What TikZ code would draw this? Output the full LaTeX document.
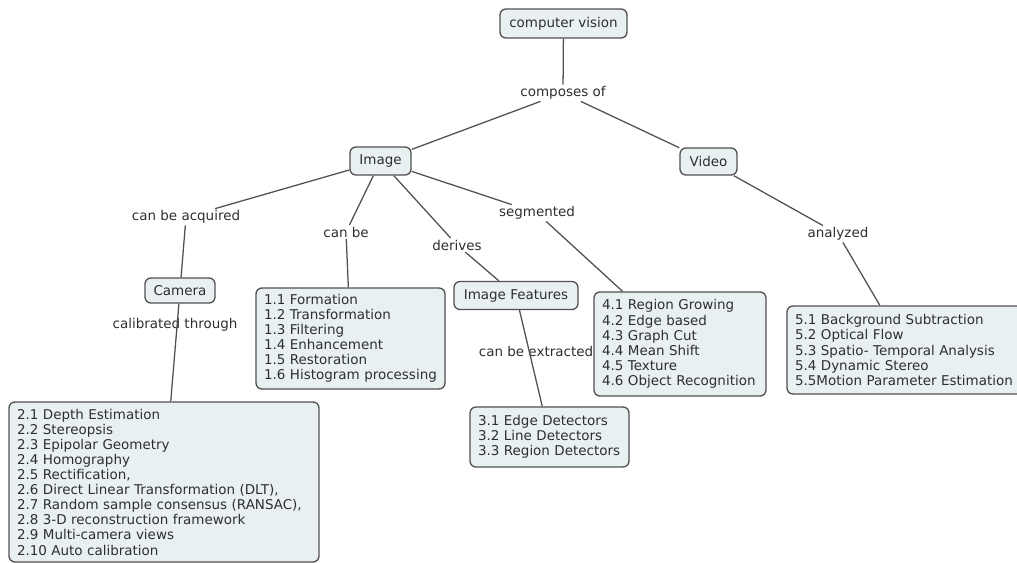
\documentclass[tikz,border=0pt]{standalone}
\usepackage{fontspec}
\setmainfont{DejaVu Sans}
\definecolor{boxfill}{HTML}{E9F0F2}
\definecolor{boxline}{HTML}{505050}
\definecolor{txt}{HTML}{2E2E2E}
\begin{document}
\begin{tikzpicture}[x=0.75pt,y=-0.75pt,
  every node/.style={text=txt, font=\fontsize{10.1}{11.33}\selectfont},
  concept/.style={draw=boxline, fill=boxfill, line width=1pt, rounded corners=4.5pt, inner sep=0pt, align=center},
  listbox/.style={concept, align=left, inner xsep=6pt, inner ysep=0pt},
  linklabel/.style={inner sep=1.2pt},
  conn/.style={draw=boxline, line width=0.95pt}
]
\useasboundingbox (0,0) rectangle (1017,563);
\clip (0,0) rectangle (1017,563);

% concepts
\node[concept, minimum width=95.25pt, minimum height=21.75pt] (cv) at (563.5,23.5) {computer vision};
\node[concept, minimum width=45.75pt, minimum height=21pt] (image) at (380.5,161) {Image};
\node[concept, minimum width=42.75pt, minimum height=20.25pt] (video) at (708.5,161.5) {Video};
\node[concept, minimum width=52.5pt, minimum height=18.75pt] (camera) at (180,290.5) {Camera};
\node[concept, minimum width=93pt, minimum height=21pt] (feat) at (516,295.5) {Image Features};

\node[listbox, text width=129.75pt, minimum height=75.75pt] (ops) at (350.5,338.5) {1.1 Formation\\1.2 Transformation\\1.3 Filtering\\1.4 Enhancement\\1.5 Restoration\\1.6 Histogram processing};
\node[listbox, text width=220.5pt, minimum height=120pt] (calib) at (164,482) {2.1 Depth Estimation\\2.2 Stereopsis\\2.3 Epipolar Geometry\\2.4 Homography\\2.5 Rectification,\\2.6 Direct Linear Transformation (DLT),\\2.7 Random sample consensus (RANSAC),\\2.8 3-D reconstruction framework\\2.9 Multi-camera views\\2.10 Auto calibration};
\node[listbox, text width=107.25pt, minimum height=45pt] (detect) at (549.5,437) {3.1 Edge Detectors\\3.2 Line Detectors\\3.3 Region Detectors};
\node[listbox, text width=117pt, minimum height=78pt] (segm) at (680,344) {4.1 Region Growing\\4.2 Edge based\\4.3 Graph Cut\\4.4 Mean Shift\\4.5 Texture\\4.6 Object Recognition};
\node[listbox, text width=166.5pt, minimum height=66pt] (motion) at (906,350) {5.1 Background Subtraction\\5.2 Optical Flow\\5.3 Spatio- Temporal Analysis\\5.4 Dynamic Stereo\\5.5Motion Parameter Estimation};

% linking phrases
\node[linklabel] (composes) at (563,93) {composes of};
\node[linklabel] (acquired) at (186,217) {can be acquired};
\node[linklabel] (canbe) at (346,232) {can be};
\node[linklabel] (derives) at (457,245) {derives};
\node[linklabel] (segmented) at (537,213) {segmented};
\node[linklabel] (analyzed) at (838,234) {analyzed};
\node[linklabel] (calibrated) at (175,325) {calibrated through};
\node[linklabel] (extracted) at (536,351) {can be extracted};

% connectors
\draw[conn] (cv) -- (composes);
\draw[conn] (composes) -- (image);
\draw[conn] (composes) -- (video);
\draw[conn] (image) -- (acquired);
\draw[conn] (acquired) -- (camera);
\draw[conn] (camera) -- (calib);
\draw[conn] (image) -- (canbe);
\draw[conn] (canbe) -- (ops);
\draw[conn] (image) -- (derives);
\draw[conn] (derives) -- (feat);
\draw[conn] (feat) -- (detect);
\draw[conn] (image) -- (segmented);
\draw[conn] (segmented) -- (segm);
\draw[conn] (video) -- (analyzed);
\draw[conn] (analyzed) -- (motion);
\end{tikzpicture}
\end{document}
